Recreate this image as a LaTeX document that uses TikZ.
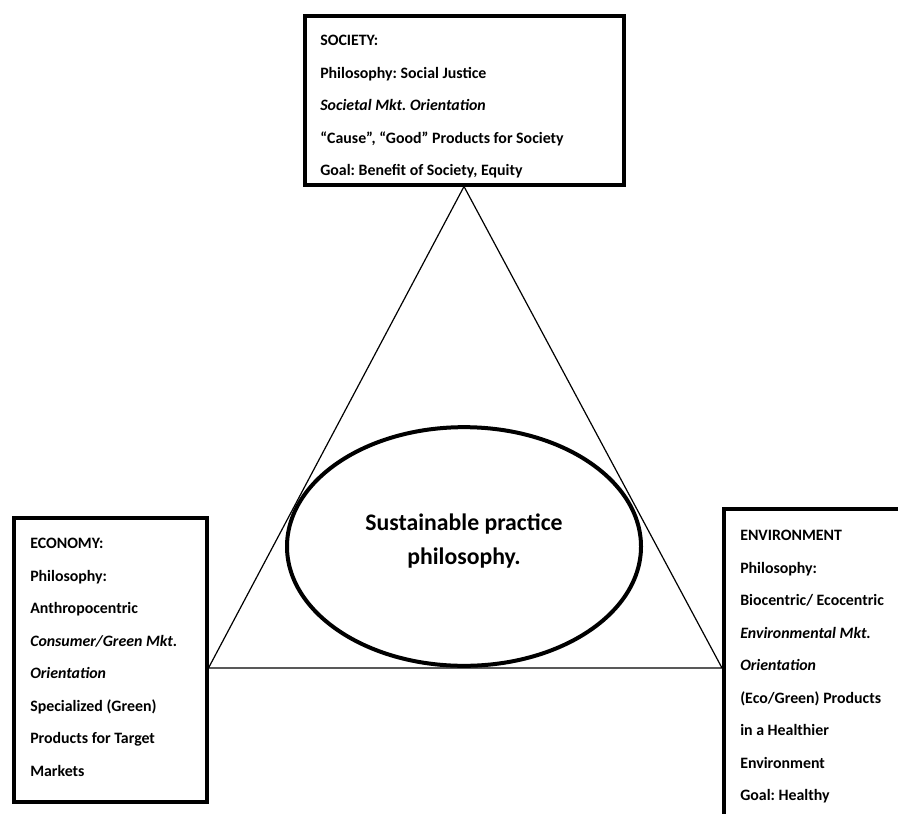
\documentclass[tikz,border=0pt]{standalone}
\usepackage{fontspec}
\setmainfont{Carlito}
\usepackage{tikz}
\usetikzlibrary{shapes.geometric, positioning}
\frenchspacing

\begin{document}
\begin{tikzpicture}[x=0.75pt, y=-0.75pt, font=\bfseries]
		\tikzstyle{pillar} = [rectangle, draw=black, line width=3pt, inner sep=0pt]
		\tikzstyle{pillartext} = [anchor=north west, inner sep=0pt, align=left, font={\fontsize{11.9pt}{24.4pt}\selectfont\bfseries}]
		\tikzstyle{core} = [ellipse, draw=black, line width=3pt, fill=white, minimum width=265.5pt, minimum height=179pt]
		\tikzstyle{coretext} = [align=center, inner sep=0pt, font={\fontsize{17.8pt}{26pt}\selectfont\bfseries}]
		\tikzstyle{edge} = [draw=black, line width=0.9pt]
		%-------------------------------------------------------
		% frame of the figure
		\useasboundingbox (0,0) rectangle (898,813);
		
		\node (society) [pillar, minimum width=239.25pt, minimum height=126pt] at (464,100.5) {};
		\node (economy) [pillar, minimum width=144.75pt, minimum height=213pt] at (110,659.5) {};
		\node (environment) [pillar, anchor=north west, minimum width=240pt, minimum height=300pt] at (722,507) {};
		
		\node (societytext) [pillartext] at (320,35) {SOCIETY:\\
			Philosophy: Social Justice\\
			\textit{Societal Mkt. Orientation}\\
			“Cause”, “Good” Products for Society\\
			Goal: Benefit of Society, Equity};
		
		\node (economytext) [pillartext] at (30,538) {ECONOMY:\\
			Philosophy:\\
			Anthropocentric\\
			\textit{Consumer/Green Mkt.}\\
			\textit{Orientation}\\
			Specialized (Green)\\
			Products for Target\\
			Markets};
		
		\node (environmenttext) [pillartext] at (740,530) {ENVIRONMENT\\
			Philosophy:\\
			Biocentric/ Ecocentric\\
			\textit{Environmental Mkt.}\\
			\textit{Orientation}\\
			(Eco/Green) Products\\
			in a Healthier\\
			Environment\\
			Goal: Healthy};
		
		% corners of the triangle
		\coordinate (left) at (economy.east |- 0,668);
		\coordinate (right) at (environment.west |- 0,668);
		
		\draw [edge] (society.south) -- (left) -- (right) -- cycle;
		
		\node (practice) [core] at (464,546.5) {};
		\node (practicetext) [coretext] at (464,541) {Sustainable practice\\ philosophy.};
		
		\end{tikzpicture}
\end{document}
